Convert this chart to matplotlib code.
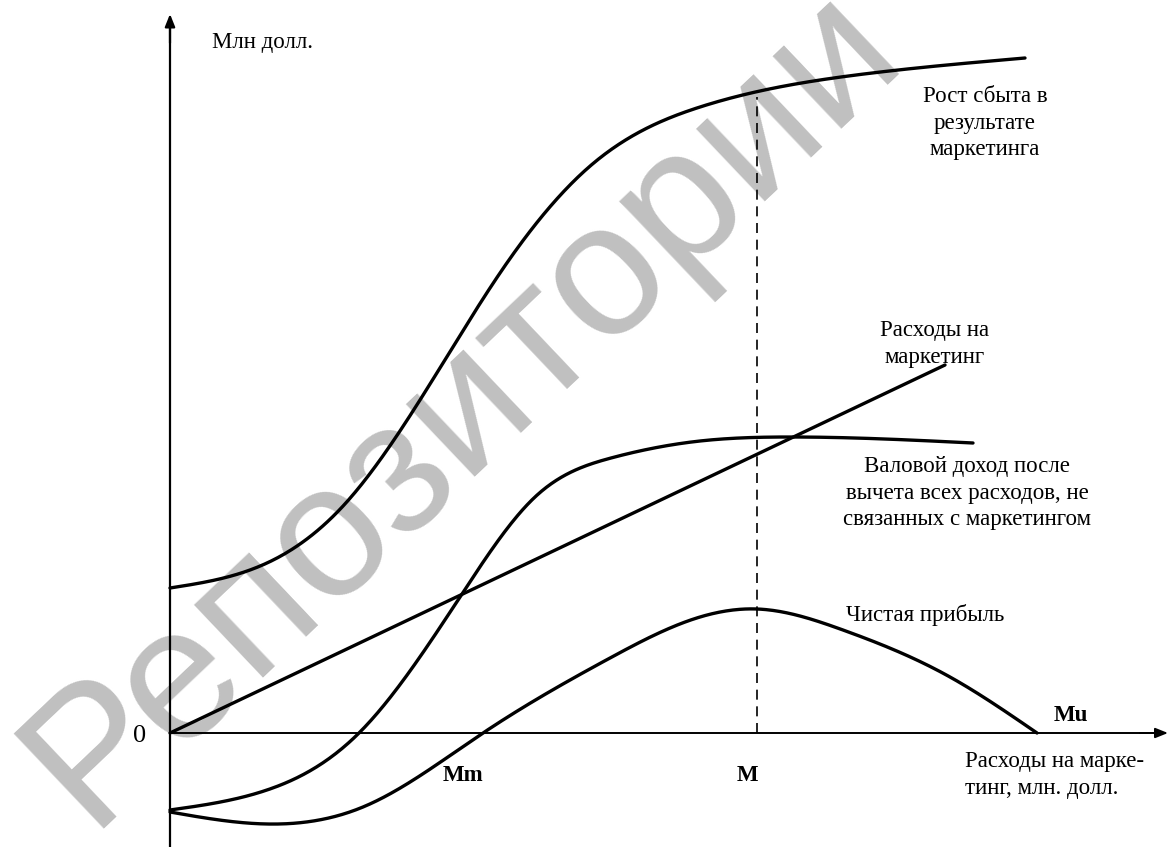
import matplotlib
matplotlib.use("Agg")
import matplotlib.pyplot as plt
import numpy as np

# Data (x: marketing spend, y: mln dollars)
sales_x = [0, 97, 174, 250, 330, 419, 530, 686, 855]
sales_y = [145, 170, 228, 333, 460, 566, 626, 658, 675]

cost_x = [0, 775]
cost_y = [0, 368]

gross_x = [0, 97, 189, 290, 365, 441, 530, 619, 803]
gross_y = [-77, -57, 0, 136, 236, 275, 292, 296, 290]

net_x = [0, 97, 193, 313, 440, 530, 587, 673, 780, 867]
net_y = [-79, -91, -74, 0, 75, 116, 124, 103, 56, 0]

M_x = 587
Mm_x = 293
Mu_x = 901


def spline(xs, ys, n=500):
    """Natural cubic spline through the read points (drawing only)."""
    x = np.asarray(xs, float)
    y = np.asarray(ys, float)
    k = len(x)
    h = np.diff(x)
    A = np.zeros((k, k))
    b = np.zeros(k)
    A[0, 0] = A[-1, -1] = 1
    for i in range(1, k - 1):
        A[i, i - 1] = h[i - 1]
        A[i, i] = 2 * (h[i - 1] + h[i])
        A[i, i + 1] = h[i]
        b[i] = 6 * ((y[i + 1] - y[i]) / h[i] - (y[i] - y[i - 1]) / h[i - 1])
    m = np.linalg.solve(A, b)
    xx = np.linspace(x[0], x[-1], n)
    idx = np.clip(np.searchsorted(x, xx) - 1, 0, k - 2)
    x0, x1 = x[idx], x[idx + 1]
    hh = x1 - x0
    t1, t0 = x1 - xx, xx - x0
    yy = (m[idx] * t1 ** 3 / (6 * hh) + m[idx + 1] * t0 ** 3 / (6 * hh)
          + (y[idx] / hh - m[idx] * hh / 6) * t1 + (y[idx + 1] / hh - m[idx + 1] * hh / 6) * t0)
    return xx, yy


plt.rcParams['font.family'] = ['Liberation Serif', 'DejaVu Serif']

fig = plt.figure(figsize=(11.68, 8.47), dpi=100)
ax = fig.add_axes([0, 0, 1, 1])
ax.set_xlim(-170, 998)
ax.set_ylim(-114, 733)
ax.axis('off')

# watermark
ax.text(293, 327, "Репозитории", family='Liberation Sans', fontsize=136,
        color='#c0c0c0', rotation=43.5, rotation_mode='anchor',
        ha='center', va='center', zorder=0)

# axes with arrows
ax.plot([0, 0], [-114, 705], color='black', lw=1.6, zorder=3, solid_capstyle='butt')
ax.plot([0, 985], [0, 0], color='black', lw=1.4, zorder=3, solid_capstyle='butt')
ax.annotate('', xy=(0, 719), xytext=(0, 690),
            arrowprops=dict(arrowstyle='-|>,head_length=0.75,head_width=0.3', color='black', lw=1.6,
                            shrinkA=0, shrinkB=0), zorder=4)
ax.annotate('', xy=(998, 0), xytext=(970, 0),
            arrowprops=dict(arrowstyle='-|>,head_length=0.75,head_width=0.3', color='black', lw=1.4,
                            shrinkA=0, shrinkB=0), zorder=4)

# dashed vertical line at M
ax.plot([M_x, M_x], [0, 636], color='black', lw=1.2, ls=(0, (6, 4)), zorder=3)

lw = 2.4
for xs, ys in [(sales_x, sales_y), (gross_x, gross_y), (net_x, net_y)]:
    sx, sy = spline(xs, ys)
    ax.plot(sx, sy, color='black', lw=lw, zorder=5, solid_joinstyle='round', solid_capstyle='round')
ax.plot(cost_x, cost_y, color='black', lw=lw, zorder=5, solid_capstyle='round')

fs = 16.5
ls = 1.37
ax.text(42, 691, "Млн долл.", fontsize=fs, ha='left', va='center')
ax.text(815, 610, "Рост сбыта в\nрезультате\nмаркетинга", fontsize=fs, ha='center', va='center',
        linespacing=ls)
ax.text(765, 389, "Расходы на\nмаркетинг", fontsize=fs, ha='center', va='center', linespacing=ls)
ax.text(797, 240, "Валовой доход после\nвычета всех расходов, не\nсвязанных с маркетингом",
        fontsize=fs, ha='center', va='center', linespacing=ls)
ax.text(755, 118, "Чистая прибыль", fontsize=fs, ha='center', va='center')
ax.text(-30, -3, "0", fontsize=19, ha='center', va='center')
ax.text(Mm_x, -42, "Mm", fontsize=fs, ha='center', va='center', fontweight='bold')
ax.text(M_x - 10, -42, "M", fontsize=fs, ha='center', va='center', fontweight='bold')
ax.text(Mu_x, 18, "Mu", fontsize=fs, ha='center', va='center', fontweight='bold')
ax.text(795, -42, "Расходы на марке-\nтинг, млн. долл.", fontsize=fs, ha='left', va='center',
        linespacing=ls)

fig.savefig("out.png", dpi=100)
